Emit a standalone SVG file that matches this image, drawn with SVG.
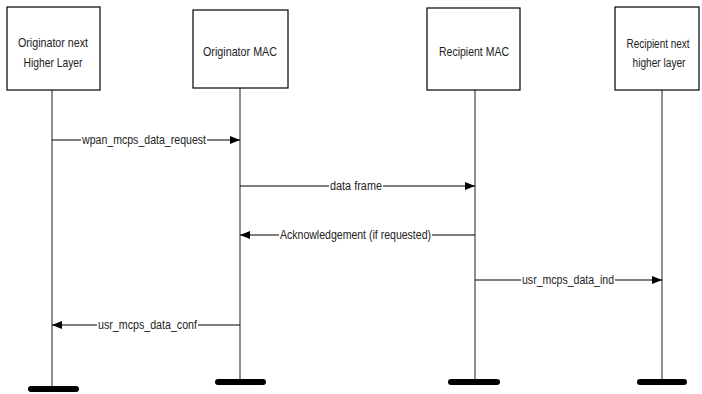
<svg xmlns="http://www.w3.org/2000/svg" width="702" height="394" viewBox="0 0 702 394">
<style>
.box{fill:#fff;stroke:#000;stroke-width:1.2}
.life{stroke:#333;stroke-width:1.1;fill:none}
.msg{stroke:#000;stroke-width:1.1;fill:none}
.bar{stroke:#000;stroke-width:6;stroke-linecap:round}
.t{font-family:"Liberation Sans",Arial,sans-serif;font-size:13.5px;fill:#222;text-anchor:middle}
.t2{font-family:"Liberation Sans",Arial,sans-serif;font-size:12.5px;fill:#222;text-anchor:middle}
.l{font-family:"Liberation Sans",Arial,sans-serif;font-size:12.5px;fill:#222;text-anchor:middle}
.bg{fill:#fff}
</style>
<defs>
<marker id="ah" viewBox="0 0 10 8" refX="10" refY="4" markerWidth="10" markerHeight="8" markerUnits="userSpaceOnUse" orient="auto">
<path d="M0,0 L10,4 L0,8 Z" fill="#000"/>
</marker>
</defs>
<rect width="702" height="394" fill="#fff"/>
<g id="lifelines">
<line class="life" x1="52" y1="90" x2="52" y2="389"/>
<line class="life" x1="240" y1="88" x2="240" y2="382"/>
<line class="life" x1="475" y1="90" x2="475" y2="382"/>
<line class="life" x1="662" y1="90" x2="662" y2="382"/>
<line class="bar" x1="31" y1="389" x2="76" y2="389"/>
<line class="bar" x1="218" y1="382" x2="263" y2="382"/>
<line class="bar" x1="451" y1="382" x2="497" y2="382"/>
<line class="bar" x1="640" y1="382" x2="684" y2="382"/>
</g>
<g id="n1">
<rect class="box" x="7" y="7" width="93" height="83"/>
<text class="t" x="53" y="47" textLength="70" lengthAdjust="spacingAndGlyphs">Originator next</text>
<text class="t" x="53" y="67" textLength="59" lengthAdjust="spacingAndGlyphs">Higher Layer</text>
</g>
<g id="n2">
<rect class="box" x="193" y="10" width="95" height="78"/>
<text class="t" x="240" y="56" textLength="74" lengthAdjust="spacingAndGlyphs">Originator MAC</text>
</g>
<g id="n3">
<rect class="box" x="427" y="8" width="93" height="82"/>
<text class="t" x="474" y="56" textLength="70" lengthAdjust="spacingAndGlyphs">Recipient MAC</text>
</g>
<g id="n4">
<rect class="box" x="615" y="7" width="84" height="83"/>
<text class="t2" x="658" y="48" textLength="63" lengthAdjust="spacingAndGlyphs">Recipient next</text>
<text class="t2" x="659" y="67" textLength="53" lengthAdjust="spacingAndGlyphs">higher layer</text>
</g>
<g id="connectors">
<line class="msg" x1="52" y1="140" x2="240" y2="140" marker-end="url(#ah)"/>
<rect class="bg" x="81" y="133" width="126" height="15"/>
<text class="l" x="144" y="144" textLength="124" lengthAdjust="spacingAndGlyphs">wpan_mcps_data_request</text>
<line class="msg" x1="240" y1="186" x2="475" y2="186" marker-end="url(#ah)"/>
<rect class="bg" x="329" y="179" width="54" height="15"/>
<text class="l" x="356" y="190" textLength="52" lengthAdjust="spacingAndGlyphs">data frame</text>
<line class="msg" x1="475" y1="235" x2="240" y2="235" marker-end="url(#ah)"/>
<rect class="bg" x="279" y="228" width="153" height="15"/>
<text class="l" x="355.5" y="239" textLength="151" lengthAdjust="spacingAndGlyphs">Acknowledgement (if requested)</text>
<line class="msg" x1="475" y1="280" x2="662" y2="280" marker-end="url(#ah)"/>
<rect class="bg" x="521" y="273" width="94" height="15"/>
<text class="l" x="568" y="284" textLength="92" lengthAdjust="spacingAndGlyphs">usr_mcps_data_ind</text>
<line class="msg" x1="240" y1="325" x2="52" y2="325" marker-end="url(#ah)"/>
<rect class="bg" x="97" y="318" width="101" height="15"/>
<text class="l" x="147.5" y="329" textLength="99" lengthAdjust="spacingAndGlyphs">usr_mcps_data_conf</text>
</g>
</svg>
